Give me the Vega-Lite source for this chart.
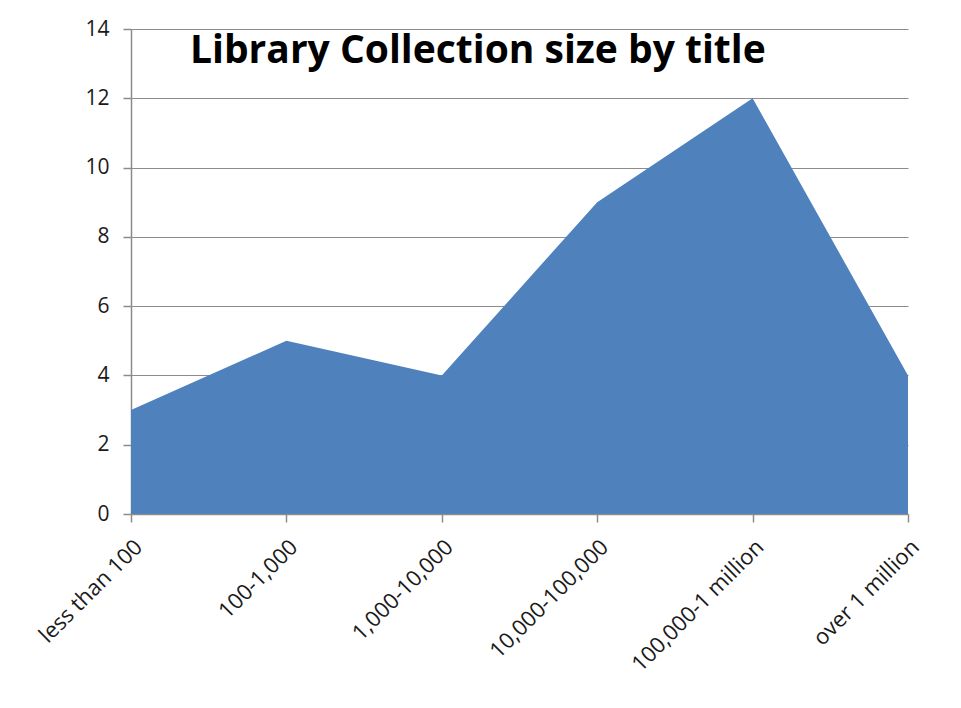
{
  "$schema": "https://vega.github.io/schema/vega-lite/v6.json",
  "autosize": "none",
  "width": 777,
  "height": 485,
  "padding": {"left": 131, "top": 29, "right": 53, "bottom": 194},
  "background": "white",
  "title": {
    "text": "Library Collection size by title",
    "font": "Open Sans",
    "fontSize": 39,
    "fontWeight": "bold",
    "color": "black",
    "anchor": "start",
    "frame": "group",
    "dx": 59,
    "offset": -84,
    "baseline": "alphabetic"
  },
  "data": {
    "values": [
      {"size": "less than 100", "count": 3},
      {"size": "100-1,000", "count": 5},
      {"size": "1,000-10,000", "count": 4},
      {"size": "10,000-100,000", "count": 9},
      {"size": "100,000-1 million", "count": 12},
      {"size": "over 1 million", "count": 4}
    ]
  },
  "mark": {"type": "area", "color": "#4F81BD", "opacity": 1},
  "encoding": {
    "x": {
      "field": "size",
      "type": "ordinal",
      "sort": null,
      "scale": {"type": "point", "padding": 0},
      "axis": {
        "title": null,
        "labelAngle": -45,
        "labelAlign": "right",
        "labelBaseline": "top",
        "labelPadding": 14,
        "labelFont": "Open Sans",
        "labelFontSize": 22,
        "labelColor": "#1a1a1a",
        "labelOverlap": false,
        "tickSize": 8,
        "tickColor": "#8c8c8c",
        "domainColor": "#8c8c8c",
        "tickWidth": 1.5,
        "domainWidth": 1.5,
        "grid": false
      }
    },
    "y": {
      "field": "count",
      "type": "quantitative",
      "scale": {"domain": [0, 14]},
      "axis": {
        "title": null,
        "values": [0, 2, 4, 6, 8, 10, 12, 14],
        "labelFont": "Open Sans",
        "labelFontSize": 21,
        "labelColor": "#1a1a1a",
        "labelPadding": 14,
        "tickSize": 8,
        "tickColor": "#8c8c8c",
        "tickWidth": 1.5,
        "domainColor": "#8c8c8c",
        "domainWidth": 1.5,
        "grid": true,
        "gridColor": "#8c8c8c",
        "gridWidth": 1.2
      }
    }
  },
  "config": {"view": {"stroke": null}}
}
